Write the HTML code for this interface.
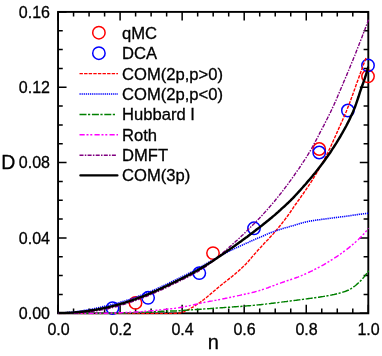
<!DOCTYPE html>
<html><head><meta charset="utf-8"><title>D vs n</title>
<style>
html,body{margin:0;padding:0;background:#fff;}
body{width:382px;height:356px;position:relative;overflow:hidden;font-family:"Liberation Sans",sans-serif;}
</style></head><body>
<svg width="382" height="356" viewBox="0 0 382 356" style="position:absolute;left:0;top:0">
<rect width="382" height="356" fill="#fff"/>
<defs><clipPath id="c"><rect x="57.0" y="10.9" width="312.2" height="303.4"/></clipPath></defs>
<rect x="58.05" y="11.9" width="310.25" height="301.40000000000003" fill="none" stroke="#000" stroke-width="1.9"/>
<path d="M58.05,313.3v-8.5 M58.05,11.9v8.5 M73.56,313.3v-4.7 M73.56,11.9v4.7 M89.08,313.3v-4.7 M89.08,11.9v4.7 M104.59,313.3v-4.7 M104.59,11.9v4.7 M120.10,313.3v-8.5 M120.10,11.9v8.5 M135.61,313.3v-4.7 M135.61,11.9v4.7 M151.12,313.3v-4.7 M151.12,11.9v4.7 M166.64,313.3v-4.7 M166.64,11.9v4.7 M182.15,313.3v-8.5 M182.15,11.9v8.5 M197.66,313.3v-4.7 M197.66,11.9v4.7 M213.18,313.3v-4.7 M213.18,11.9v4.7 M228.69,313.3v-4.7 M228.69,11.9v4.7 M244.20,313.3v-8.5 M244.20,11.9v8.5 M259.71,313.3v-4.7 M259.71,11.9v4.7 M275.23,313.3v-4.7 M275.23,11.9v4.7 M290.74,313.3v-4.7 M290.74,11.9v4.7 M306.25,313.3v-8.5 M306.25,11.9v8.5 M321.76,313.3v-4.7 M321.76,11.9v4.7 M337.28,313.3v-4.7 M337.28,11.9v4.7 M352.79,313.3v-4.7 M352.79,11.9v4.7 M368.30,313.3v-8.5 M368.30,11.9v8.5 M58.05,313.30h8.5 M368.3,313.30h-8.5 M58.05,294.46h4.7 M368.3,294.46h-4.7 M58.05,275.62h4.7 M368.3,275.62h-4.7 M58.05,256.79h4.7 M368.3,256.79h-4.7 M58.05,237.95h8.5 M368.3,237.95h-8.5 M58.05,219.11h4.7 M368.3,219.11h-4.7 M58.05,200.28h4.7 M368.3,200.28h-4.7 M58.05,181.44h4.7 M368.3,181.44h-4.7 M58.05,162.60h8.5 M368.3,162.60h-8.5 M58.05,143.76h4.7 M368.3,143.76h-4.7 M58.05,124.92h4.7 M368.3,124.92h-4.7 M58.05,106.09h4.7 M368.3,106.09h-4.7 M58.05,87.25h8.5 M368.3,87.25h-8.5 M58.05,68.41h4.7 M368.3,68.41h-4.7 M58.05,49.57h4.7 M368.3,49.57h-4.7 M58.05,30.74h4.7 M368.3,30.74h-4.7 M58.05,11.90h8.5 M368.3,11.90h-8.5" stroke="#000" stroke-width="1.5" fill="none"/>
<g fill="none" stroke-width="1.5">
<circle cx="135.5" cy="302.9" r="6.2" stroke="#ff0000"/>
<circle cx="213.0" cy="253.1" r="6.2" stroke="#ff0000"/>
<circle cx="319.2" cy="149.0" r="6.2" stroke="#ff0000"/>
<circle cx="368.0" cy="76.3" r="6.2" stroke="#ff0000"/>
<circle cx="112.5" cy="308.1" r="6.2" stroke="#0000ff"/>
<circle cx="148.1" cy="297.8" r="6.2" stroke="#0000ff"/>
<circle cx="199.3" cy="273.1" r="6.2" stroke="#0000ff"/>
<circle cx="254" cy="228.3" r="6.2" stroke="#0000ff"/>
<circle cx="319.2" cy="152.5" r="6.2" stroke="#0000ff"/>
<circle cx="347.9" cy="110.5" r="6.2" stroke="#0000ff"/>
<circle cx="368.0" cy="65.4" r="6.2" stroke="#0000ff"/>
</g>
<g fill="none" clip-path="url(#c)">
<path d="M58.5,313.6 L59.7,313.6 L61.0,313.6 L62.2,313.6 L63.5,313.6 L64.7,313.6 L65.9,313.6 L67.2,313.6 L68.4,313.6 L69.7,313.6 L70.9,313.6 L72.1,313.6 L73.4,313.6 L74.6,313.6 L75.9,313.6 L77.1,313.6 L78.3,313.6 L79.6,313.6 L80.8,313.6 L82.1,313.6 L83.3,313.6 L84.5,313.6 L85.8,313.6 L87.0,313.6 L88.3,313.6 L89.5,313.6 L90.7,313.6 L92.0,313.6 L93.2,313.6 L94.5,313.6 L95.7,313.6 L96.9,313.6 L98.2,313.6 L99.4,313.6 L100.7,313.6 L101.9,313.6 L103.1,313.6 L104.4,313.6 L105.6,313.6 L106.9,313.6 L108.1,313.6 L109.3,313.6 L110.6,313.6 L111.8,313.6 L113.1,313.6 L114.3,313.6 L115.5,313.6 L116.8,313.6 L118.0,313.6 L119.3,313.6 L120.5,313.6 L121.7,313.6 L123.0,313.6 L124.2,313.6 L125.5,313.6 L126.7,313.6 L127.9,313.6 L129.2,313.6 L130.4,313.6 L131.7,313.6 L132.9,313.6 L134.1,313.6 L135.4,313.6 L136.6,313.6 L137.9,313.6 L139.1,313.6 L140.3,313.6 L141.6,313.6 L142.8,313.6 L144.1,313.6 L145.3,313.6 L146.5,313.6 L147.8,313.6 L149.0,313.6 L150.3,313.6 L151.5,313.6 L152.7,313.6 L154.0,313.6 L155.2,313.6 L156.5,313.6 L157.7,313.6 L158.9,313.6 L160.2,313.6 L161.4,313.6 L162.7,313.6 L163.9,313.6 L165.1,313.6 L166.4,313.6 L167.6,313.6 L168.9,313.6 L170.1,313.6 L171.3,313.6 L172.6,313.6 L173.8,313.5 L175.1,313.4 L176.3,313.3 L177.5,313.2 L178.8,313.1 L180.0,313.0 L181.3,312.7 L182.5,312.3 L183.7,311.8 L185.0,311.2 L186.2,310.6 L187.5,310.0 L188.7,309.4 L189.9,308.7 L191.2,308.0 L192.4,307.3 L193.7,306.6 L194.9,305.8 L196.1,305.0 L197.4,304.2 L198.6,303.4 L199.9,302.5 L201.1,301.6 L202.3,300.7 L203.6,299.8 L204.8,298.8 L206.1,297.8 L207.3,296.8 L208.5,295.7 L209.8,294.7 L211.0,293.6 L212.3,292.6 L213.5,291.5 L214.7,290.5 L216.0,289.4 L217.2,288.4 L218.5,287.3 L219.7,286.3 L220.9,285.3 L222.2,284.2 L223.4,283.2 L224.7,282.3 L225.9,281.3 L227.1,280.3 L228.4,279.4 L229.6,278.4 L230.9,277.4 L232.1,276.5 L233.3,275.4 L234.6,274.4 L235.8,273.3 L237.1,272.3 L238.3,271.2 L239.5,270.1 L240.8,269.0 L242.0,267.8 L243.3,266.6 L244.5,265.4 L245.7,264.2 L247.0,262.8 L248.2,261.5 L249.5,260.0 L250.7,258.6 L251.9,257.1 L253.2,255.7 L254.4,254.3 L255.7,252.9 L256.9,251.5 L258.1,250.1 L259.4,248.8 L260.6,247.4 L261.9,246.0 L263.1,244.7 L264.3,243.3 L265.6,242.0 L266.8,240.7 L268.1,239.4 L269.3,238.1 L270.5,236.8 L271.8,235.4 L273.0,234.1 L274.3,232.6 L275.5,231.2 L276.7,229.8 L278.0,228.3 L279.2,226.8 L280.5,225.2 L281.7,223.7 L282.9,222.1 L284.2,220.5 L285.4,218.9 L286.7,217.2 L287.9,215.5 L289.1,213.8 L290.4,212.0 L291.6,210.2 L292.9,208.4 L294.1,206.5 L295.3,204.7 L296.6,203.0 L297.8,201.2 L299.1,199.5 L300.3,197.8 L301.5,196.0 L302.8,194.3 L304.0,192.5 L305.3,190.7 L306.5,188.8 L307.7,187.0 L309.0,185.2 L310.2,183.3 L311.5,181.4 L312.7,179.4 L313.9,177.4 L315.2,175.4 L316.4,173.3 L317.7,171.2 L318.9,169.1 L320.1,166.9 L321.4,164.7 L322.6,162.5 L323.9,160.2 L325.1,157.9 L326.3,155.5 L327.6,153.1 L328.8,150.5 L330.1,147.9 L331.3,145.2 L332.5,142.5 L333.8,139.7 L335.0,137.0 L336.3,134.2 L337.5,131.4 L338.7,128.6 L340.0,125.8 L341.2,123.1 L342.5,120.3 L343.7,117.5 L344.9,114.6 L346.2,111.7 L347.4,108.6 L348.7,105.5 L349.9,102.3 L351.1,99.0 L352.4,95.5 L353.6,92.1 L354.9,88.6 L356.1,85.1 L357.3,81.7 L358.6,78.2 L359.8,74.8 L361.1,71.3 L362.3,68.0 L363.5,64.6 L364.8,61.3 L366.0,58.0" stroke="#ff0000" stroke-width="1.4" stroke-dasharray="3.4 1.2"/>
<path d="M58.5,313.0 L59.7,313.0 L61.0,312.9 L62.2,312.8 L63.5,312.8 L64.7,312.7 L65.9,312.6 L67.2,312.5 L68.4,312.4 L69.7,312.3 L70.9,312.2 L72.1,312.1 L73.4,311.9 L74.6,311.8 L75.9,311.7 L77.1,311.5 L78.3,311.3 L79.6,311.2 L80.8,311.0 L82.1,310.8 L83.3,310.6 L84.5,310.4 L85.8,310.2 L87.0,310.0 L88.3,309.8 L89.5,309.6 L90.7,309.4 L92.0,309.1 L93.2,308.9 L94.5,308.6 L95.7,308.4 L96.9,308.1 L98.2,307.8 L99.4,307.5 L100.7,307.2 L101.9,306.9 L103.1,306.6 L104.4,306.3 L105.6,306.0 L106.9,305.7 L108.1,305.4 L109.3,305.2 L110.6,304.9 L111.8,304.6 L113.1,304.2 L114.3,303.9 L115.5,303.6 L116.8,303.3 L118.0,302.9 L119.3,302.6 L120.5,302.2 L121.7,301.8 L123.0,301.5 L124.2,301.1 L125.5,300.7 L126.7,300.3 L127.9,299.9 L129.2,299.5 L130.4,299.1 L131.7,298.7 L132.9,298.2 L134.1,297.8 L135.4,297.4 L136.6,296.9 L137.9,296.5 L139.1,296.0 L140.3,295.5 L141.6,295.1 L142.8,294.6 L144.1,294.1 L145.3,293.6 L146.5,293.1 L147.8,292.6 L149.0,292.1 L150.3,291.6 L151.5,291.0 L152.7,290.5 L154.0,290.0 L155.2,289.4 L156.5,288.9 L157.7,288.3 L158.9,287.8 L160.2,287.2 L161.4,286.6 L162.7,286.1 L163.9,285.5 L165.1,284.9 L166.4,284.3 L167.6,283.7 L168.9,283.1 L170.1,282.5 L171.3,281.9 L172.6,281.3 L173.8,280.7 L175.1,280.1 L176.3,279.5 L177.5,278.9 L178.8,278.3 L180.0,277.7 L181.3,277.1 L182.5,276.5 L183.7,275.8 L185.0,275.2 L186.2,274.6 L187.5,274.0 L188.7,273.3 L189.9,272.7 L191.2,272.0 L192.4,271.4 L193.7,270.7 L194.9,270.0 L196.1,269.3 L197.4,268.6 L198.6,267.9 L199.9,267.2 L201.1,266.6 L202.3,265.9 L203.6,265.2 L204.8,264.5 L206.1,263.9 L207.3,263.2 L208.5,262.5 L209.8,261.8 L211.0,261.1 L212.3,260.5 L213.5,259.8 L214.7,259.1 L216.0,258.4 L217.2,257.6 L218.5,256.9 L219.7,256.2 L220.9,255.5 L222.2,254.8 L223.4,254.2 L224.7,253.5 L225.9,252.9 L227.1,252.2 L228.4,251.6 L229.6,251.0 L230.9,250.4 L232.1,249.8 L233.3,249.2 L234.6,248.6 L235.8,248.0 L237.1,247.4 L238.3,246.9 L239.5,246.3 L240.8,245.7 L242.0,245.2 L243.3,244.6 L244.5,244.1 L245.7,243.5 L247.0,242.9 L248.2,242.4 L249.5,241.8 L250.7,241.3 L251.9,240.7 L253.2,240.2 L254.4,239.6 L255.7,239.1 L256.9,238.5 L258.1,238.0 L259.4,237.5 L260.6,236.9 L261.9,236.4 L263.1,235.9 L264.3,235.4 L265.6,234.8 L266.8,234.3 L268.1,233.8 L269.3,233.3 L270.5,232.8 L271.8,232.3 L273.0,231.9 L274.3,231.4 L275.5,231.0 L276.7,230.5 L278.0,230.1 L279.2,229.7 L280.5,229.3 L281.7,229.0 L282.9,228.6 L284.2,228.2 L285.4,227.8 L286.7,227.5 L287.9,227.1 L289.1,226.8 L290.4,226.4 L291.6,226.0 L292.9,225.7 L294.1,225.3 L295.3,224.9 L296.6,224.5 L297.8,224.2 L299.1,223.8 L300.3,223.5 L301.5,223.1 L302.8,222.8 L304.0,222.5 L305.3,222.1 L306.5,221.9 L307.7,221.6 L309.0,221.3 L310.2,221.1 L311.5,220.9 L312.7,220.7 L313.9,220.5 L315.2,220.3 L316.4,220.1 L317.7,219.9 L318.9,219.7 L320.1,219.6 L321.4,219.4 L322.6,219.3 L323.9,219.1 L325.1,218.9 L326.3,218.8 L327.6,218.6 L328.8,218.5 L330.1,218.3 L331.3,218.1 L332.5,218.0 L333.8,217.8 L335.0,217.6 L336.3,217.5 L337.5,217.3 L338.7,217.2 L340.0,217.0 L341.2,216.8 L342.5,216.7 L343.7,216.5 L344.9,216.4 L346.2,216.2 L347.4,216.0 L348.7,215.9 L349.9,215.7 L351.1,215.5 L352.4,215.3 L353.6,215.1 L354.9,215.0 L356.1,214.8 L357.3,214.6 L358.6,214.4 L359.8,214.2 L361.1,214.1 L362.3,213.9 L363.5,213.8 L364.8,213.6 L366.0,213.5 L367.3,213.4 L368.5,213.3" stroke="#0000ff" stroke-width="1.6" stroke-dasharray="1.25 0.85"/>
<path d="M58.5,313.6 L59.7,313.6 L61.0,313.6 L62.2,313.6 L63.5,313.6 L64.7,313.6 L65.9,313.6 L67.2,313.6 L68.4,313.6 L69.7,313.6 L70.9,313.6 L72.1,313.6 L73.4,313.6 L74.6,313.6 L75.9,313.6 L77.1,313.6 L78.3,313.5 L79.6,313.5 L80.8,313.5 L82.1,313.5 L83.3,313.5 L84.5,313.5 L85.8,313.5 L87.0,313.5 L88.3,313.5 L89.5,313.5 L90.7,313.5 L92.0,313.5 L93.2,313.5 L94.5,313.4 L95.7,313.4 L96.9,313.4 L98.2,313.4 L99.4,313.4 L100.7,313.4 L101.9,313.4 L103.1,313.4 L104.4,313.4 L105.6,313.3 L106.9,313.3 L108.1,313.3 L109.3,313.3 L110.6,313.2 L111.8,313.2 L113.1,313.2 L114.3,313.2 L115.5,313.1 L116.8,313.1 L118.0,313.1 L119.3,313.0 L120.5,313.0 L121.7,313.0 L123.0,312.9 L124.2,312.9 L125.5,312.9 L126.7,312.8 L127.9,312.8 L129.2,312.7 L130.4,312.7 L131.7,312.7 L132.9,312.6 L134.1,312.6 L135.4,312.5 L136.6,312.5 L137.9,312.4 L139.1,312.4 L140.3,312.3 L141.6,312.3 L142.8,312.2 L144.1,312.2 L145.3,312.1 L146.5,312.1 L147.8,312.0 L149.0,312.0 L150.3,311.9 L151.5,311.9 L152.7,311.8 L154.0,311.7 L155.2,311.7 L156.5,311.6 L157.7,311.5 L158.9,311.4 L160.2,311.4 L161.4,311.3 L162.7,311.2 L163.9,311.2 L165.1,311.1 L166.4,311.1 L167.6,311.1 L168.9,311.0 L170.1,311.0 L171.3,311.0 L172.6,311.0 L173.8,310.9 L175.1,310.9 L176.3,310.9 L177.5,310.8 L178.8,310.7 L180.0,310.7 L181.3,310.6 L182.5,310.5 L183.7,310.4 L185.0,310.3 L186.2,310.2 L187.5,310.1 L188.7,310.0 L189.9,310.0 L191.2,309.9 L192.4,309.8 L193.7,309.7 L194.9,309.6 L196.1,309.5 L197.4,309.4 L198.6,309.4 L199.9,309.3 L201.1,309.2 L202.3,309.1 L203.6,309.0 L204.8,308.9 L206.1,308.8 L207.3,308.7 L208.5,308.7 L209.8,308.6 L211.0,308.5 L212.3,308.4 L213.5,308.3 L214.7,308.2 L216.0,308.1 L217.2,308.0 L218.5,308.0 L219.7,307.9 L220.9,307.8 L222.2,307.7 L223.4,307.6 L224.7,307.5 L225.9,307.4 L227.1,307.3 L228.4,307.3 L229.6,307.2 L230.9,307.1 L232.1,307.0 L233.3,306.9 L234.6,306.8 L235.8,306.7 L237.1,306.6 L238.3,306.5 L239.5,306.4 L240.8,306.4 L242.0,306.3 L243.3,306.2 L244.5,306.1 L245.7,306.0 L247.0,305.9 L248.2,305.8 L249.5,305.7 L250.7,305.6 L251.9,305.5 L253.2,305.4 L254.4,305.3 L255.7,305.2 L256.9,305.0 L258.1,304.9 L259.4,304.8 L260.6,304.7 L261.9,304.5 L263.1,304.4 L264.3,304.2 L265.6,304.1 L266.8,303.9 L268.1,303.8 L269.3,303.6 L270.5,303.5 L271.8,303.3 L273.0,303.2 L274.3,303.0 L275.5,302.9 L276.7,302.7 L278.0,302.6 L279.2,302.4 L280.5,302.2 L281.7,302.1 L282.9,301.9 L284.2,301.8 L285.4,301.6 L286.7,301.5 L287.9,301.3 L289.1,301.2 L290.4,301.0 L291.6,300.8 L292.9,300.7 L294.1,300.5 L295.3,300.4 L296.6,300.2 L297.8,300.0 L299.1,299.9 L300.3,299.7 L301.5,299.6 L302.8,299.4 L304.0,299.2 L305.3,299.1 L306.5,298.9 L307.7,298.7 L309.0,298.5 L310.2,298.4 L311.5,298.2 L312.7,298.0 L313.9,297.8 L315.2,297.7 L316.4,297.5 L317.7,297.3 L318.9,297.2 L320.1,297.0 L321.4,296.8 L322.6,296.6 L323.9,296.4 L325.1,296.2 L326.3,296.0 L327.6,295.8 L328.8,295.6 L330.1,295.3 L331.3,295.1 L332.5,294.8 L333.8,294.6 L335.0,294.3 L336.3,294.0 L337.5,293.7 L338.7,293.4 L340.0,293.0 L341.2,292.7 L342.5,292.3 L343.7,291.9 L344.9,291.5 L346.2,291.0 L347.4,290.5 L348.7,290.0 L349.9,289.3 L351.1,288.6 L352.4,287.8 L353.6,286.9 L354.9,286.0 L356.1,285.0 L357.3,283.9 L358.6,282.8 L359.8,281.6 L361.1,280.4 L362.3,279.0 L363.5,277.6 L364.8,276.1 L366.0,274.5 L367.3,272.8 L368.5,270.9 L368.6,270.8" stroke="#008000" stroke-width="1.45" stroke-dasharray="7 1.5 2.2 1.7"/>
<path d="M58.5,313.6 L59.7,313.6 L61.0,313.6 L62.2,313.6 L63.5,313.6 L64.7,313.6 L65.9,313.6 L67.2,313.6 L68.4,313.6 L69.7,313.6 L70.9,313.6 L72.1,313.6 L73.4,313.6 L74.6,313.5 L75.9,313.5 L77.1,313.5 L78.3,313.5 L79.6,313.5 L80.8,313.5 L82.1,313.5 L83.3,313.5 L84.5,313.5 L85.8,313.5 L87.0,313.4 L88.3,313.4 L89.5,313.4 L90.7,313.4 L92.0,313.4 L93.2,313.4 L94.5,313.4 L95.7,313.4 L96.9,313.3 L98.2,313.3 L99.4,313.3 L100.7,313.3 L101.9,313.3 L103.1,313.3 L104.4,313.2 L105.6,313.2 L106.9,313.2 L108.1,313.1 L109.3,313.1 L110.6,313.1 L111.8,313.0 L113.1,313.0 L114.3,313.0 L115.5,312.9 L116.8,312.9 L118.0,312.8 L119.3,312.8 L120.5,312.7 L121.7,312.7 L123.0,312.6 L124.2,312.6 L125.5,312.5 L126.7,312.4 L127.9,312.4 L129.2,312.3 L130.4,312.3 L131.7,312.2 L132.9,312.2 L134.1,312.1 L135.4,312.0 L136.6,311.9 L137.9,311.9 L139.1,311.8 L140.3,311.7 L141.6,311.6 L142.8,311.5 L144.1,311.4 L145.3,311.3 L146.5,311.2 L147.8,311.1 L149.0,311.0 L150.3,310.9 L151.5,310.8 L152.7,310.7 L154.0,310.6 L155.2,310.4 L156.5,310.3 L157.7,310.2 L158.9,310.1 L160.2,309.9 L161.4,309.8 L162.7,309.7 L163.9,309.5 L165.1,309.4 L166.4,309.3 L167.6,309.1 L168.9,309.0 L170.1,308.8 L171.3,308.7 L172.6,308.6 L173.8,308.4 L175.1,308.3 L176.3,308.1 L177.5,307.9 L178.8,307.7 L180.0,307.5 L181.3,307.3 L182.5,307.1 L183.7,306.9 L185.0,306.6 L186.2,306.4 L187.5,306.1 L188.7,305.8 L189.9,305.6 L191.2,305.3 L192.4,305.0 L193.7,304.8 L194.9,304.5 L196.1,304.2 L197.4,304.0 L198.6,303.7 L199.9,303.4 L201.1,303.1 L202.3,302.9 L203.6,302.6 L204.8,302.3 L206.1,302.1 L207.3,301.8 L208.5,301.6 L209.8,301.3 L211.0,301.1 L212.3,300.9 L213.5,300.6 L214.7,300.4 L216.0,300.2 L217.2,299.9 L218.5,299.7 L219.7,299.5 L220.9,299.2 L222.2,299.0 L223.4,298.7 L224.7,298.5 L225.9,298.2 L227.1,298.0 L228.4,297.7 L229.6,297.5 L230.9,297.2 L232.1,297.0 L233.3,296.7 L234.6,296.4 L235.8,296.2 L237.1,295.9 L238.3,295.6 L239.5,295.4 L240.8,295.1 L242.0,294.8 L243.3,294.6 L244.5,294.3 L245.7,294.0 L247.0,293.8 L248.2,293.5 L249.5,293.2 L250.7,292.9 L251.9,292.6 L253.2,292.3 L254.4,292.0 L255.7,291.6 L256.9,291.3 L258.1,290.9 L259.4,290.6 L260.6,290.2 L261.9,289.8 L263.1,289.4 L264.3,289.0 L265.6,288.5 L266.8,288.1 L268.1,287.7 L269.3,287.2 L270.5,286.7 L271.8,286.3 L273.0,285.8 L274.3,285.4 L275.5,284.9 L276.7,284.4 L278.0,284.0 L279.2,283.5 L280.5,283.1 L281.7,282.6 L282.9,282.2 L284.2,281.8 L285.4,281.4 L286.7,280.9 L287.9,280.5 L289.1,280.1 L290.4,279.7 L291.6,279.3 L292.9,278.9 L294.1,278.4 L295.3,278.0 L296.6,277.5 L297.8,277.1 L299.1,276.6 L300.3,276.1 L301.5,275.6 L302.8,275.0 L304.0,274.5 L305.3,274.0 L306.5,273.4 L307.7,272.8 L309.0,272.3 L310.2,271.7 L311.5,271.1 L312.7,270.5 L313.9,269.9 L315.2,269.2 L316.4,268.6 L317.7,268.0 L318.9,267.3 L320.1,266.6 L321.4,266.0 L322.6,265.3 L323.9,264.6 L325.1,263.9 L326.3,263.2 L327.6,262.4 L328.8,261.7 L330.1,260.9 L331.3,260.1 L332.5,259.4 L333.8,258.6 L335.0,257.7 L336.3,256.9 L337.5,256.1 L338.7,255.2 L340.0,254.4 L341.2,253.5 L342.5,252.6 L343.7,251.7 L344.9,250.8 L346.2,249.8 L347.4,248.9 L348.7,247.9 L349.9,246.9 L351.1,245.9 L352.4,244.8 L353.6,243.8 L354.9,242.7 L356.1,241.6 L357.3,240.4 L358.6,239.3 L359.8,238.1 L361.1,236.8 L362.3,235.6 L363.5,234.2 L364.8,232.8 L366.0,231.4 L367.3,229.9 L368.5,228.4" stroke="#ff00ff" stroke-width="1.45" stroke-dasharray="5.2 1.8 2 1.8 2 2.2"/>
<path d="M58.5,313.0 L59.7,313.0 L61.0,313.1 L62.2,313.1 L63.5,313.1 L64.7,313.1 L65.9,313.1 L67.2,313.1 L68.4,313.1 L69.7,313.1 L70.9,313.0 L72.1,313.0 L73.4,312.9 L74.6,312.9 L75.9,312.9 L77.1,312.8 L78.3,312.7 L79.6,312.6 L80.8,312.5 L82.1,312.4 L83.3,312.3 L84.5,312.2 L85.8,312.1 L87.0,312.0 L88.3,311.9 L89.5,311.7 L90.7,311.6 L92.0,311.4 L93.2,311.3 L94.5,311.1 L95.7,310.9 L96.9,310.7 L98.2,310.5 L99.4,310.3 L100.7,310.1 L101.9,309.9 L103.1,309.7 L104.4,309.5 L105.6,309.2 L106.9,309.0 L108.1,308.7 L109.3,308.4 L110.6,308.1 L111.8,307.8 L113.1,307.4 L114.3,307.1 L115.5,306.8 L116.8,306.5 L118.0,306.1 L119.3,305.8 L120.5,305.4 L121.7,305.0 L123.0,304.7 L124.2,304.3 L125.5,303.9 L126.7,303.5 L127.9,303.1 L129.2,302.7 L130.4,302.3 L131.7,301.9 L132.9,301.4 L134.1,301.0 L135.4,300.6 L136.6,300.1 L137.9,299.7 L139.1,299.2 L140.3,298.7 L141.6,298.3 L142.8,297.8 L144.1,297.3 L145.3,296.8 L146.5,296.3 L147.8,295.8 L149.0,295.3 L150.3,294.8 L151.5,294.2 L152.7,293.7 L154.0,293.2 L155.2,292.6 L156.5,292.1 L157.7,291.5 L158.9,291.0 L160.2,290.4 L161.4,289.8 L162.7,289.3 L163.9,288.7 L165.1,288.1 L166.4,287.5 L167.6,286.9 L168.9,286.3 L170.1,285.7 L171.3,285.1 L172.6,284.5 L173.8,283.9 L175.1,283.3 L176.3,282.7 L177.5,282.1 L178.8,281.5 L180.0,280.9 L181.3,280.3 L182.5,279.7 L183.7,279.0 L185.0,278.4 L186.2,277.8 L187.5,277.2 L188.7,276.5 L189.9,275.9 L191.2,275.2 L192.4,274.6 L193.7,273.9 L194.9,273.2 L196.1,272.5 L197.4,271.8 L198.6,271.1 L199.9,270.3 L201.1,269.5 L202.3,268.7 L203.6,267.9 L204.8,267.1 L206.1,266.3 L207.3,265.4 L208.5,264.5 L209.8,263.6 L211.0,262.7 L212.3,261.8 L213.5,260.9 L214.7,259.9 L216.0,258.9 L217.2,257.8 L218.5,256.8 L219.7,255.7 L220.9,254.6 L222.2,253.5 L223.4,252.4 L224.7,251.3 L225.9,250.2 L227.1,249.1 L228.4,248.0 L229.6,246.9 L230.9,245.8 L232.1,244.7 L233.3,243.6 L234.6,242.5 L235.8,241.3 L237.1,240.2 L238.3,239.1 L239.5,237.9 L240.8,236.8 L242.0,235.6 L243.3,234.4 L244.5,233.2 L245.7,232.0 L247.0,230.8 L248.2,229.6 L249.5,228.4 L250.7,227.1 L251.9,225.9 L253.2,224.6 L254.4,223.4 L255.7,222.1 L256.9,220.8 L258.1,219.5 L259.4,218.2 L260.6,216.9 L261.9,215.6 L263.1,214.2 L264.3,212.9 L265.6,211.5 L266.8,210.1 L268.1,208.7 L269.3,207.3 L270.5,205.9 L271.8,204.4 L273.0,203.0 L274.3,201.5 L275.5,200.0 L276.7,198.4 L278.0,196.9 L279.2,195.4 L280.5,193.8 L281.7,192.2 L282.9,190.6 L284.2,189.0 L285.4,187.4 L286.7,185.7 L287.9,184.1 L289.1,182.4 L290.4,180.7 L291.6,179.0 L292.9,177.2 L294.1,175.5 L295.3,173.7 L296.6,171.9 L297.8,170.1 L299.1,168.3 L300.3,166.5 L301.5,164.6 L302.8,162.7 L304.0,160.8 L305.3,158.9 L306.5,157.0 L307.7,155.0 L309.0,153.0 L310.2,150.9 L311.5,148.7 L312.7,146.5 L313.9,144.3 L315.2,141.9 L316.4,139.6 L317.7,137.2 L318.9,134.8 L320.1,132.4 L321.4,130.0 L322.6,127.6 L323.9,125.3 L325.1,122.9 L326.3,120.5 L327.6,118.0 L328.8,115.6 L330.1,113.1 L331.3,110.5 L332.5,107.9 L333.8,105.2 L335.0,102.4 L336.3,99.6 L337.5,96.7 L338.7,93.8 L340.0,90.9 L341.2,88.0 L342.5,85.1 L343.7,82.1 L344.9,79.2 L346.2,76.3 L347.4,73.3 L348.7,70.3 L349.9,67.3 L351.1,64.3 L352.4,61.3 L353.6,58.3 L354.9,55.2 L356.1,52.1 L357.3,48.9 L358.6,45.8 L359.8,42.6 L361.1,39.4 L362.3,36.2 L363.5,32.9 L364.8,29.7 L366.0,26.4 L367.3,23.1 L368.5,19.7" stroke="#800080" stroke-width="1.4" stroke-dasharray="4 1.3 1.5 1.3"/>
<path d="M58.5,313.0 L59.7,313.0 L61.0,313.0 L62.2,313.0 L63.5,312.9 L64.7,312.9 L65.9,312.9 L67.2,312.8 L68.4,312.8 L69.7,312.7 L70.9,312.6 L72.1,312.6 L73.4,312.5 L74.6,312.4 L75.9,312.3 L77.1,312.2 L78.3,312.1 L79.6,311.9 L80.8,311.8 L82.1,311.7 L83.3,311.5 L84.5,311.4 L85.8,311.2 L87.0,311.1 L88.3,310.9 L89.5,310.7 L90.7,310.5 L92.0,310.3 L93.2,310.1 L94.5,309.9 L95.7,309.7 L96.9,309.5 L98.2,309.3 L99.4,309.0 L100.7,308.8 L101.9,308.5 L103.1,308.3 L104.4,308.0 L105.6,307.7 L106.9,307.4 L108.1,307.2 L109.3,306.9 L110.6,306.6 L111.8,306.3 L113.1,305.9 L114.3,305.6 L115.5,305.3 L116.8,304.9 L118.0,304.6 L119.3,304.3 L120.5,303.9 L121.7,303.5 L123.0,303.2 L124.2,302.8 L125.5,302.4 L126.7,302.0 L127.9,301.6 L129.2,301.2 L130.4,300.8 L131.7,300.4 L132.9,299.9 L134.1,299.5 L135.4,299.1 L136.6,298.6 L137.9,298.2 L139.1,297.7 L140.3,297.2 L141.6,296.8 L142.8,296.3 L144.1,295.8 L145.3,295.3 L146.5,294.8 L147.8,294.3 L149.0,293.8 L150.3,293.3 L151.5,292.7 L152.7,292.2 L154.0,291.7 L155.2,291.1 L156.5,290.6 L157.7,290.0 L158.9,289.5 L160.2,288.9 L161.4,288.3 L162.7,287.8 L163.9,287.2 L165.1,286.6 L166.4,286.0 L167.6,285.4 L168.9,284.8 L170.1,284.2 L171.3,283.6 L172.6,283.0 L173.8,282.4 L175.1,281.8 L176.3,281.2 L177.5,280.6 L178.8,280.0 L180.0,279.4 L181.3,278.8 L182.5,278.1 L183.7,277.5 L185.0,276.9 L186.2,276.3 L187.5,275.7 L188.7,275.0 L189.9,274.4 L191.2,273.7 L192.4,273.1 L193.7,272.4 L194.9,271.7 L196.1,271.0 L197.4,270.3 L198.6,269.6 L199.9,268.9 L201.1,268.1 L202.3,267.4 L203.6,266.6 L204.8,265.9 L206.1,265.1 L207.3,264.3 L208.5,263.6 L209.8,262.8 L211.0,262.0 L212.3,261.2 L213.5,260.4 L214.7,259.5 L216.0,258.7 L217.2,257.9 L218.5,257.1 L219.7,256.2 L220.9,255.4 L222.2,254.6 L223.4,253.7 L224.7,252.8 L225.9,252.0 L227.1,251.1 L228.4,250.3 L229.6,249.4 L230.9,248.5 L232.1,247.7 L233.3,246.8 L234.6,245.9 L235.8,245.0 L237.1,244.1 L238.3,243.2 L239.5,242.3 L240.8,241.4 L242.0,240.5 L243.3,239.6 L244.5,238.7 L245.7,237.8 L247.0,236.9 L248.2,236.0 L249.5,235.0 L250.7,234.1 L251.9,233.2 L253.2,232.2 L254.4,231.3 L255.7,230.3 L256.9,229.3 L258.1,228.4 L259.4,227.4 L260.6,226.4 L261.9,225.5 L263.1,224.5 L264.3,223.5 L265.6,222.5 L266.8,221.5 L268.1,220.5 L269.3,219.5 L270.5,218.5 L271.8,217.5 L273.0,216.4 L274.3,215.4 L275.5,214.3 L276.7,213.2 L278.0,212.1 L279.2,211.0 L280.5,209.9 L281.7,208.7 L282.9,207.6 L284.2,206.5 L285.4,205.3 L286.7,204.1 L287.9,203.0 L289.1,201.8 L290.4,200.6 L291.6,199.3 L292.9,198.1 L294.1,196.8 L295.3,195.5 L296.6,194.2 L297.8,192.8 L299.1,191.4 L300.3,190.1 L301.5,188.7 L302.8,187.3 L304.0,185.9 L305.3,184.5 L306.5,183.1 L307.7,181.6 L309.0,180.2 L310.2,178.7 L311.5,177.2 L312.7,175.8 L313.9,174.2 L315.2,172.7 L316.4,171.2 L317.7,169.6 L318.9,168.0 L320.1,166.4 L321.4,164.8 L322.6,163.2 L323.9,161.5 L325.1,159.8 L326.3,158.0 L327.6,156.3 L328.8,154.5 L330.1,152.7 L331.3,150.8 L332.5,148.9 L333.8,147.0 L335.0,145.1 L336.3,143.1 L337.5,141.1 L338.7,139.1 L340.0,137.0 L341.2,134.9 L342.5,132.7 L343.7,130.5 L344.9,128.3 L346.2,126.0 L347.4,123.6 L348.7,121.2 L349.9,118.7 L351.1,116.1 L352.4,113.4 L353.6,110.4 L354.9,107.2 L356.1,103.9 L357.3,100.3 L358.6,96.5 L359.8,92.6 L361.1,88.9 L362.3,85.5 L363.5,82.1 L364.8,78.4 L366.0,74.6 L367.3,70.7 L368.5,66.6" stroke="#000000" stroke-width="2.45"/>
</g>
<g fill="none">
<circle cx="98.9" cy="32.7" r="6.2" stroke="#ff0000" stroke-width="1.5"/>
<circle cx="98.9" cy="53.2" r="6.2" stroke="#0000ff" stroke-width="1.5"/>
<path d="M79.5,73.6H118" stroke="#ff0000" stroke-width="1.4" stroke-dasharray="3.4 1.2"/>
<path d="M79.5,94.0H118" stroke="#0000ff" stroke-width="1.6" stroke-dasharray="1.25 0.85"/>
<path d="M79.5,114.4H115.5" stroke="#008000" stroke-width="1.45" stroke-dasharray="7 1.5 2.2 1.7"/>
<path d="M79.5,134.8H118" stroke="#ff00ff" stroke-width="1.45" stroke-dasharray="5.2 1.8 2 1.8 2 2.2"/>
<path d="M79.5,155.2H116.6" stroke="#800080" stroke-width="1.4" stroke-dasharray="4 1.3 1.5 1.3"/>
<path d="M80.4,175.4H117.4" stroke="#000" stroke-width="2.3" stroke-linecap="round"/>
</g>
</svg>
<svg width="382" height="356" viewBox="0 0 382 356" style="position:absolute;left:0;top:0;will-change:transform">
<g font-family="'Liberation Sans', sans-serif" fill="#000" stroke="#000" stroke-width="0.3">
<text x="122" y="39.0" font-size="16.6">qMC</text>
<text x="122" y="59.4" font-size="16.6">DCA</text>
<text x="122" y="79.5" font-size="16.6">COM(2p,p&gt;0)</text>
<text x="122" y="99.9" font-size="16.6">COM(2p,p&lt;0)</text>
<text x="122" y="120.3" font-size="16.6">Hubbard I</text>
<text x="122" y="140.7" font-size="16.6">Roth</text>
<text x="122" y="161.1" font-size="16.6">DMFT</text>
<text x="122" y="181.3" font-size="16.6">COM(3p)</text>
<text x="50" y="318.8" font-size="16" text-anchor="end">0.00</text>
<text x="50" y="243.6" font-size="16" text-anchor="end">0.04</text>
<text x="50" y="168.3" font-size="16" text-anchor="end">0.08</text>
<text x="50" y="93.0" font-size="16" text-anchor="end">0.12</text>
<text x="50" y="17.8" font-size="16" text-anchor="end">0.16</text>
<text x="58.5" y="334.7" font-size="16" text-anchor="middle">0.0</text>
<text x="120.5" y="334.7" font-size="16" text-anchor="middle">0.2</text>
<text x="182.5" y="334.7" font-size="16" text-anchor="middle">0.4</text>
<text x="244.5" y="334.7" font-size="16" text-anchor="middle">0.6</text>
<text x="306.5" y="334.7" font-size="16" text-anchor="middle">0.8</text>
<text x="368.5" y="334.7" font-size="16" text-anchor="middle">1.0</text>
<text x="1.2" y="169" font-size="19.5">D</text>
<text x="213.3" y="349.3" font-size="20" text-anchor="middle">n</text>
</g>
</svg>
</body></html>
